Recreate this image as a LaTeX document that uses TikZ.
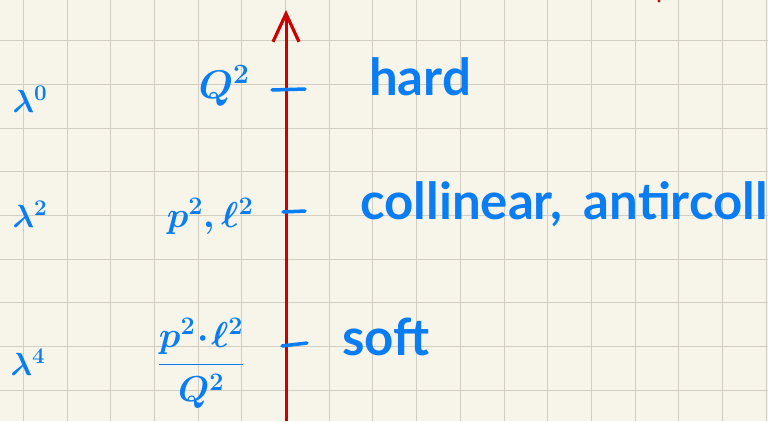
\RequirePackage{fix-cm}
\documentclass[tikz,border=0pt]{standalone}
\usepackage{amsmath}
\usepackage[no-math]{fontspec}
\setmainfont{Lato}
\usepackage{tikz}
\usetikzlibrary{arrows.meta}
\definecolor{paper}{RGB}{247,245,234}
\definecolor{gridline}{RGB}{210,206,194}
\definecolor{ink}{RGB}{10,125,245}
\definecolor{axisred}{RGB}{204,0,0}

\begin{document}
\begin{tikzpicture}[x=1pt, y=-1pt, >=Stealth,
    word/.style={text=ink, inner sep=0pt, font=\fontsize{51}{60}\selectfont\bfseries},
    order/.style={text=ink, inner sep=0pt, font=\fontsize{32}{38}\selectfont\boldmath},
    scale term/.style={text=ink, inner sep=0pt, font=\fontsize{36}{44}\selectfont\boldmath},
    tick/.style={ink, line width=3.5pt, line cap=round}]

        % paper and grid
        \fill[paper] (0,0) rectangle (768,421);
        \useasboundingbox (0,0) rectangle (768,421);
        \foreach \i in {0,...,17}
            \draw[gridline, line width=1pt] (23.3+43.7*\i,0) -- (23.3+43.7*\i,421);
        \foreach \j in {0,...,8}
            \draw[gridline, line width=1pt] (0,40.7+43.7*\j) -- (768,40.7+43.7*\j);

        % scale axis
        \coordinate (bottom) at (286,421);
        \coordinate (top) at (286,10);
        \draw[axisred, line width=3pt, -{Straight Barb[length=28pt, width=26pt, line width=3.2pt]}] (bottom) -- (top);
        \fill[axisred] (659,1) circle (1.6);

        % powers of lambda
        \node (lamA) at (30,99) [order] {$\lambda^0$};
        \node (lamB) at (30,214) [order] {$\lambda^2$};
        \node (lamC) at (28,362) [order] {$\lambda^4$};

        % virtualities
        \node (hardscale) at (224,86) [scale term, font=\fontsize{40}{48}\selectfont\boldmath] {$Q^2$};
        \node (collscale) at (210,216) [scale term] {$p^2,\ell^2$};
        \node (softscale) at (201,363) [scale term] {$\dfrac{p^2\!\cdot\!\ell^2}{Q^2}$};

        % ticks on the axis
        \coordinate (tickAl) at (272,90);
        \coordinate (tickAr) at (305,89);
        \coordinate (tickBl) at (283,212);
        \coordinate (tickBr) at (305,211);
        \coordinate (tickCl) at (282,346);
        \coordinate (tickCr) at (307,343);
        \draw[tick] (tickAl) -- (tickAr);
        \draw[tick] (tickBl) -- (tickBr);
        \draw[tick] (tickCl) -- (tickCr);

        % regions
        \node (hard) at (369,95) [word, anchor=base west] {hard};
        \node (coll) at (360,219) [word, anchor=base west] {collinear,\, antircoll};
        \node (soft) at (342,355) [word, anchor=base west] {soft};
    \end{tikzpicture}
\end{document}
